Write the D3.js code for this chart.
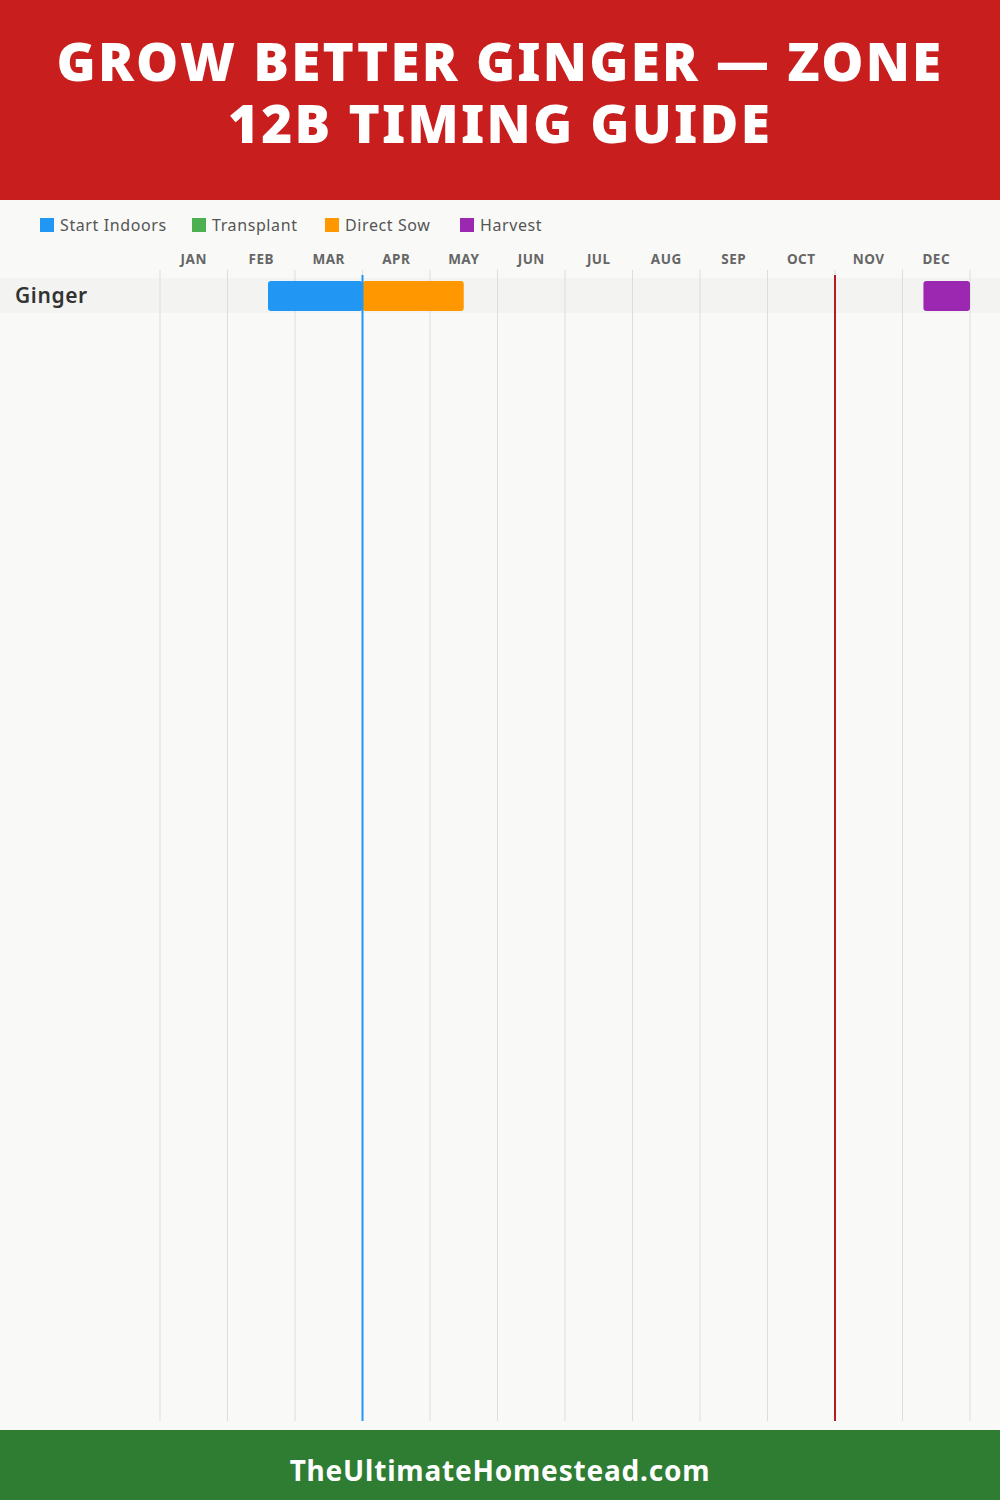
<!DOCTYPE html>
<html><head><meta charset="utf-8">
<script src="https://cdn.jsdelivr.net/npm/d3@7"></script>
<style>html,body{margin:0;padding:0;background:#f9f9f7;}svg{display:block;}</style>
</head><body>
<svg id="c" width="1000" height="1500"></svg>
<script>
const months = ["JAN","FEB","MAR","APR","MAY","JUN","JUL","AUG","SEP","OCT","NOV","DEC"];
const legendItems = ["Start Indoors","Transplant","Direct Sow","Harvest"];
const legendColors = ["#2196f3","#4caf50","#ff9800","#9c27b0"];
const crops = ["Ginger"];
// periods in month units (0 = Jan 1, 12 = Dec 31 end)
const periodCrop = ["Ginger","Ginger","Ginger"];
const periodType = ["Start Indoors","Direct Sow","Harvest"];
const periodStart = [1.6, 3.0, 11.31];
const periodEnd = [3.0, 4.5, 12.0];
const lastFrost = 3.0;
const firstFrost = 10.0;
const title = ["GROW BETTER GINGER — ZONE","12B TIMING GUIDE"];
const footer = "TheUltimateHomestead.com";

const svg = d3.select("#c");
const W = 1000, H = 1500;
const x = d3.scaleLinear().domain([0,12]).range([160,970]);
const y = d3.scaleBand().domain(crops).range([278, 278+35*crops.length]);
const color = d3.scaleOrdinal().domain(legendItems).range(legendColors);
const chartBottom = 1421;
const FF = "'Noto Sans', sans-serif";

svg.append("rect").attr("width",W).attr("height",H).attr("fill","#f9f9f7");
// header
svg.append("rect").attr("width",W).attr("height",200).attr("fill","#c81e1e");
const tt = svg.append("text").attr("class","title").attr("text-anchor","middle")
  .attr("fill","#fff").attr("font-family",FF).attr("font-weight",900)
  .attr("font-size",53).attr("letter-spacing",2.2);
tt.selectAll("tspan").data(title).join("tspan")
  .attr("x",500).attr("y",(d,i)=>81+i*62).text(d=>d);

// legend
const lx = [40,192,325,460];
const lg = svg.selectAll("g.leg").data(legendItems).join("g").attr("class","leg")
  .attr("transform",(d,i)=>`translate(${lx[i]},218)`);
lg.append("rect").attr("width",14).attr("height",14).attr("fill",d=>color(d));
lg.append("text").attr("x",20).attr("y",13).attr("font-family",FF)
  .attr("font-size",16).attr("letter-spacing",0.6).attr("fill","#555").text(d=>d);

// row band
svg.selectAll("rect.band").data(crops).join("rect").attr("class","band")
  .attr("x",0).attr("width",W).attr("y",d=>y(d)).attr("height",y.bandwidth()).attr("fill","#f3f3f2");

// gridlines
svg.selectAll("line.grid").data(d3.range(0,13)).join("line").attr("class","grid")
  .attr("x1",d=>x(d)).attr("x2",d=>x(d)).attr("y1",270).attr("y2",chartBottom)
  .attr("stroke","#dddddd").attr("stroke-width",1);

// month labels
svg.selectAll("text.mon").data(months).join("text").attr("class","mon")
  .attr("x",(d,i)=>x(i+0.5)).attr("y",264).attr("text-anchor","middle")
  .attr("font-family",FF).attr("font-weight",700).attr("font-size",13.5).attr("letter-spacing",0.5)
  .attr("fill","#666").text(d=>d);

// crop labels
svg.selectAll("text.crop").data(crops).join("text").attr("class","crop")
  .attr("x",15).attr("y",d=>y(d)+y.bandwidth()/2+7).attr("font-family",FF)
  .attr("font-weight",600).attr("font-size",21).attr("letter-spacing",0.6).attr("fill","#333").text(d=>d);

// bars
const idx = d3.range(periodType.length);
svg.selectAll("rect.bar").data(idx).join("rect").attr("class","bar")
  .attr("x",i=>x(periodStart[i])).attr("width",i=>x(periodEnd[i])-x(periodStart[i]))
  .attr("y",i=>y(periodCrop[i])+3).attr("height",y.bandwidth()-5)
  .attr("rx",3).attr("fill",i=>color(periodType[i]));

// frost lines
svg.append("line").attr("x1",x(lastFrost)).attr("x2",x(lastFrost)).attr("y1",275).attr("y2",chartBottom)
  .attr("stroke","#2196f3").attr("stroke-width",2);
svg.append("line").attr("x1",x(firstFrost)).attr("x2",x(firstFrost)).attr("y1",275).attr("y2",chartBottom)
  .attr("stroke","#b71c1c").attr("stroke-width",2);

// footer
svg.append("rect").attr("y",1430).attr("width",W).attr("height",70).attr("fill","#2e7d32");
svg.append("text").attr("x",500).attr("y",1481).attr("text-anchor","middle").attr("fill","#fff")
  .attr("font-family",FF).attr("font-weight",700).attr("font-size",28).attr("letter-spacing",0.8).text(footer);
</script>
</body></html>
